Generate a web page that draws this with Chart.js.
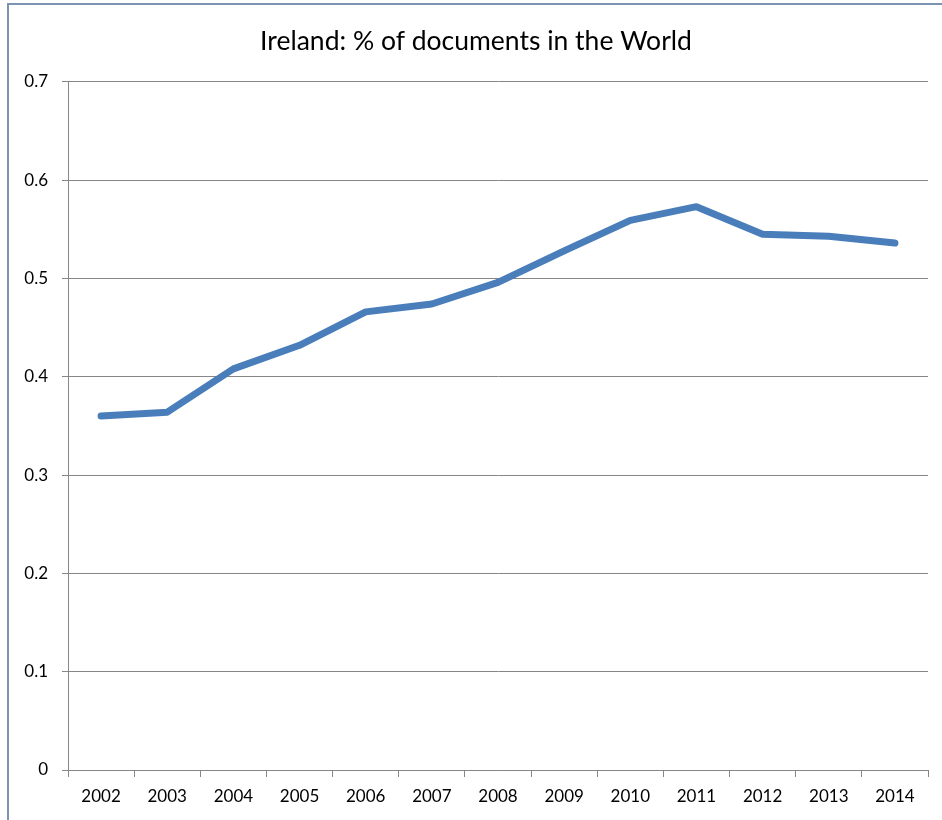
<!DOCTYPE html>
<html>
<head>
<meta charset="utf-8">
<script src="https://cdn.jsdelivr.net/npm/chart.js@4/dist/chart.umd.min.js"></script>
<style>
  html, body { margin: 0; padding: 0; background: #fff; }
  #wrap { position: relative; width: 942px; height: 820px; }
  #frame { position: absolute; left: 7px; top: 3px; width: 960px; height: 840px;
           border-left: 2px solid #7d93b2; border-top: 2px solid #7d93b2; }
  canvas { position: absolute; left: 0; top: 0; }
</style>
</head>
<body>
<div id="wrap">
  <div id="frame"></div>
  <canvas id="irelandGraph" width="942" height="820"></canvas>
</div>
<script>
const years = ['2002', '2003', '2004', '2005', '2006', '2007', '2008', '2009', '2010', '2011', '2012', '2013', '2014'];
const shareValues = [0.360, 0.364, 0.408, 0.432, 0.466, 0.474, 0.496, 0.528, 0.559, 0.573, 0.545, 0.543, 0.536];
const yTicks = [0, 0.1, 0.2, 0.3, 0.4, 0.5, 0.6, 0.7];

const ctxIreland = document.getElementById('irelandGraph').getContext('2d');
const fontFamily = 'Lato, "Open Sans", sans-serif';

const irelandGraph = new Chart(ctxIreland, {
  type: 'line',
  data: {
    labels: years,
    datasets: [{
      data: shareValues,
      borderColor: '#4a7ebb',
      borderWidth: 7,
      borderCapStyle: 'round',
      borderJoinStyle: 'round',
      pointRadius: 0,
      tension: 0,
      fill: false
    }]
  },
  options: {
    responsive: false,
    animation: false,
    // left padding nudges the title to the right, like the original
    layout: { padding: { left: 24, right: 14, top: 0, bottom: 0 } },
    plugins: {
      legend: { display: false },
      tooltip: { enabled: false },
      title: {
        display: true,
        text: 'Ireland: % of documents in the World',
        color: '#000',
        font: { family: fontFamily, size: 26.5, weight: 'normal' },
        padding: { top: 26, bottom: 24 }
      }
    },
    scales: {
      x: {
        offset: true,
        afterFit: scale => { scale.height = 50; },
        grid: {
          offset: true,
          drawOnChartArea: false,
          drawTicks: true,
          tickLength: 7,
          color: '#868686',
          lineWidth: 1
        },
        border: { color: '#868686', width: 1 },
        ticks: {
          color: '#000',
          font: { family: fontFamily, size: 17 },
          padding: 9,
          maxRotation: 0
        }
      },
      y: {
        min: 0,
        max: 0.7,
        afterFit: scale => { scale.width = 44; },
        afterBuildTicks: scale => { scale.ticks = yTicks.map(v => ({ value: v })); },
        grid: {
          color: '#868686',
          lineWidth: 1,
          drawTicks: true,
          tickLength: 6
        },
        border: { color: '#868686', width: 1 },
        ticks: {
          color: '#000',
          font: { family: fontFamily, size: 17 },
          padding: 14,
          callback: v => String(Math.round(v * 10) / 10)
        }
      }
    }
  }
});
</script>
</body>
</html>
